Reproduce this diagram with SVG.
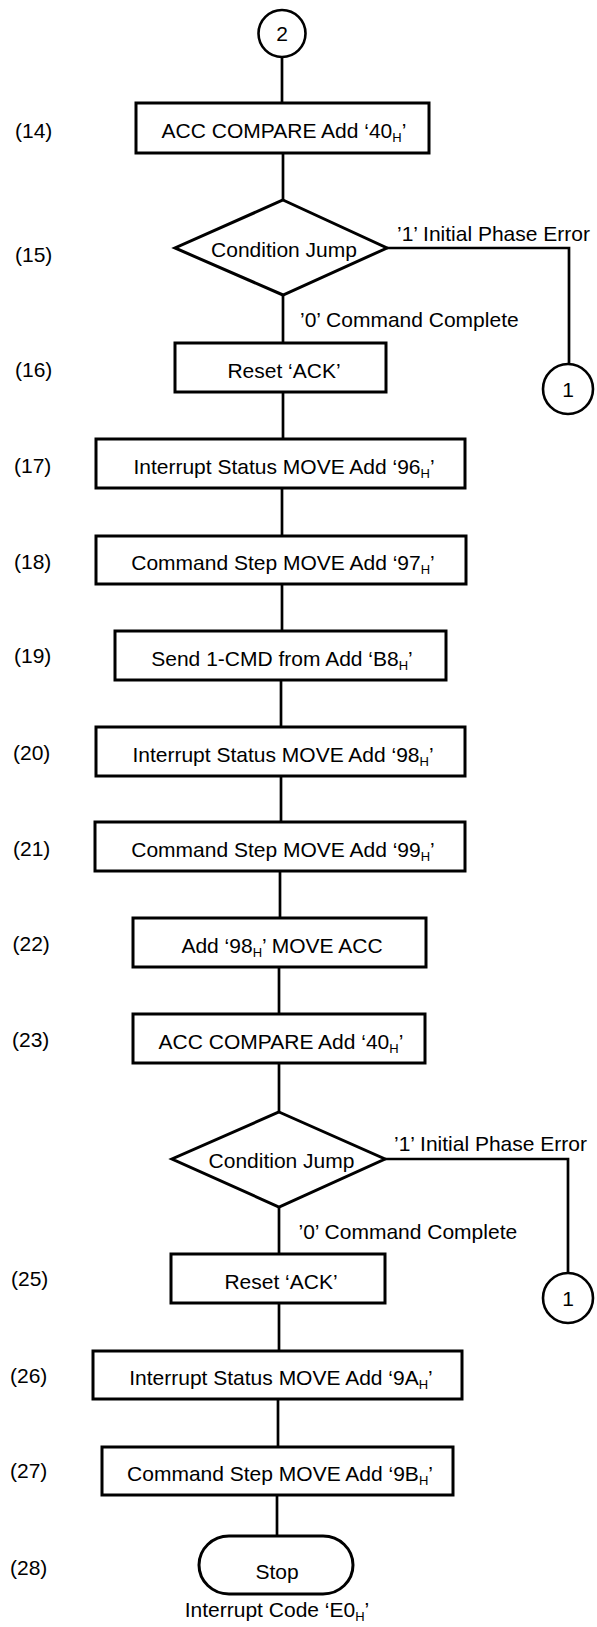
<svg xmlns="http://www.w3.org/2000/svg" width="597" height="1627" viewBox="0 0 597 1627">
<style>
  .box{fill:#fff;stroke:#000;stroke-width:3}
  .conn{fill:none;stroke:#000;stroke-width:2.7}
  .circ{fill:#fff;stroke:#000;stroke-width:2.6}
  text{font-family:"Liberation Sans",Arial,sans-serif;font-size:21px;fill:#000}
  .c{text-anchor:middle}
  .sub{font-size:13px}
</style>
<rect width="597" height="1627" fill="#fff"/>
<g id="connectors">
  <line class="conn" x1="282" y1="57" x2="282" y2="103"/>
  <line class="conn" x1="283" y1="153" x2="283" y2="200"/>
  <line class="conn" x1="283" y1="295" x2="283" y2="343"/>
  <polyline class="conn" points="387,248 569,248 569,363"/>
  <line class="conn" x1="283" y1="392" x2="283" y2="439"/>
  <line class="conn" x1="282" y1="488" x2="282" y2="536"/>
  <line class="conn" x1="282" y1="584" x2="282" y2="631"/>
  <line class="conn" x1="281" y1="680" x2="281" y2="727"/>
  <line class="conn" x1="281" y1="776" x2="281" y2="822"/>
  <line class="conn" x1="280" y1="871" x2="280" y2="918"/>
  <line class="conn" x1="279" y1="967" x2="279" y2="1014"/>
  <line class="conn" x1="279" y1="1063" x2="279" y2="1112"/>
  <polyline class="conn" points="385,1159 568,1159 568,1273"/>
  <line class="conn" x1="279" y1="1207" x2="279" y2="1254"/>
  <line class="conn" x1="279" y1="1303" x2="279" y2="1351"/>
  <line class="conn" x1="278" y1="1399" x2="278" y2="1447"/>
  <line class="conn" x1="277" y1="1495" x2="277" y2="1537"/>
</g>
<g id="labels">
  <text x="15" y="138">(14)</text>
  <text x="15" y="262">(15)</text>
  <text x="15" y="377">(16)</text>
  <text x="14" y="473">(17)</text>
  <text x="14" y="569">(18)</text>
  <text x="14" y="663">(19)</text>
  <text x="13" y="760">(20)</text>
  <text x="13" y="856">(21)</text>
  <text x="12.5" y="951">(22)</text>
  <text x="12" y="1047">(23)</text>
  <text x="11" y="1286">(25)</text>
  <text x="10" y="1383">(26)</text>
  <text x="10" y="1478">(27)</text>
  <text x="10" y="1575">(28)</text>
</g>
<g id="n2">
  <circle class="circ" cx="282" cy="33.5" r="23.5"/>
  <text class="c" x="282" y="41">2</text>
</g>
<g id="n14">
  <rect class="box" x="136" y="103" width="293" height="50"/>
  <text class="c" x="284" y="138">ACC COMPARE Add ‘40<tspan class="sub" dy="4">H</tspan><tspan dy="-4">’</tspan></text>
</g>
<g id="n15">
  <polygon class="box" points="283,200 387,248 283,295 175,248"/>
  <text class="c" x="284" y="257">Condition Jump</text>
  <text x="397" y="241">’1’ Initial Phase Error</text>
  <text x="300" y="327">’0’ Command Complete</text>
</g>
<g id="n1a">
  <circle class="circ" cx="568" cy="389" r="25"/>
  <text class="c" x="568" y="397">1</text>
</g>
<g id="n16">
  <rect class="box" x="175" y="343" width="211" height="49"/>
  <text class="c" x="284" y="378">Reset ‘ACK’</text>
</g>
<g id="n17">
  <rect class="box" x="96" y="439" width="369" height="49"/>
  <text class="c" x="284" y="474">Interrupt Status MOVE Add ‘96<tspan class="sub" dy="4">H</tspan><tspan dy="-4">’</tspan></text>
</g>
<g id="n18">
  <rect class="box" x="96" y="536" width="370" height="48"/>
  <text class="c" x="283" y="570">Command Step MOVE Add ‘97<tspan class="sub" dy="4">H</tspan><tspan dy="-4">’</tspan></text>
</g>
<g id="n19">
  <rect class="box" x="115" y="631" width="331" height="49"/>
  <text class="c" x="282" y="666">Send 1-CMD from Add ‘B8<tspan class="sub" dy="4">H</tspan><tspan dy="-4">’</tspan></text>
</g>
<g id="n20">
  <rect class="box" x="96" y="727" width="369" height="49"/>
  <text class="c" x="283" y="762">Interrupt Status MOVE Add ‘98<tspan class="sub" dy="4">H</tspan><tspan dy="-4">’</tspan></text>
</g>
<g id="n21">
  <rect class="box" x="95" y="822" width="370" height="49"/>
  <text class="c" x="283" y="857">Command Step MOVE Add ‘99<tspan class="sub" dy="4">H</tspan><tspan dy="-4">’</tspan></text>
</g>
<g id="n22">
  <rect class="box" x="133" y="918" width="293" height="49"/>
  <text class="c" x="282" y="953">Add ‘98<tspan class="sub" dy="4">H</tspan><tspan dy="-4">’ MOVE ACC</tspan></text>
</g>
<g id="n23">
  <rect class="box" x="133" y="1014" width="292" height="49"/>
  <text class="c" x="281" y="1049">ACC COMPARE Add ‘40<tspan class="sub" dy="4">H</tspan><tspan dy="-4">’</tspan></text>
</g>
<g id="n24">
  <polygon class="box" points="279,1112 385,1159 279,1207 172,1159"/>
  <text class="c" x="281.5" y="1168">Condition Jump</text>
  <text x="394" y="1151">’1’ Initial Phase Error</text>
  <text x="298.5" y="1239">’0’ Command Complete</text>
</g>
<g id="n1b">
  <circle class="circ" cx="568" cy="1298" r="25"/>
  <text class="c" x="568" y="1306">1</text>
</g>
<g id="n25">
  <rect class="box" x="171" y="1254" width="214" height="49"/>
  <text class="c" x="281" y="1289">Reset ‘ACK’</text>
</g>
<g id="n26">
  <rect class="box" x="93" y="1351" width="369" height="48"/>
  <text class="c" x="281" y="1385">Interrupt Status MOVE Add ‘9A<tspan class="sub" dy="4">H</tspan><tspan dy="-4">’</tspan></text>
</g>
<g id="n27">
  <rect class="box" x="102" y="1447" width="351" height="48"/>
  <text class="c" x="280" y="1481">Command Step MOVE Add ‘9B<tspan class="sub" dy="4">H</tspan><tspan dy="-4">’</tspan></text>
</g>
<g id="n28">
  <rect class="box" x="199" y="1536" width="154" height="58" rx="30" ry="29"/>
  <text class="c" x="277" y="1579">Stop</text>
  <text class="c" x="277" y="1617">Interrupt Code ‘E0<tspan class="sub" dy="4">H</tspan><tspan dy="-4">’</tspan></text>
</g>
</svg>
